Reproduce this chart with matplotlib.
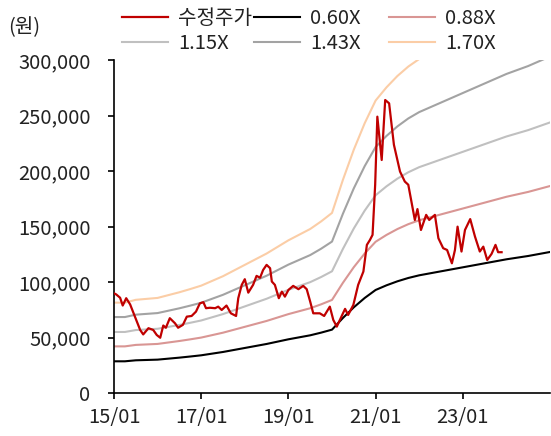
import matplotlib
matplotlib.use("Agg")
import matplotlib.pyplot as plt
from matplotlib.ticker import FuncFormatter

plt.rcParams['font.family'] = ['Noto Sans CJK KR', 'DejaVu Sans']

# ---- data ----
# adjusted share price (decimal year, KRW)
price_t = [2015.00, 2015.05, 2015.14, 2015.20, 2015.28, 2015.37, 2015.48, 2015.60, 2015.67,
           2015.79, 2015.90, 2015.98, 2016.06, 2016.13, 2016.19, 2016.28, 2016.40, 2016.47,
           2016.58, 2016.67, 2016.78, 2016.88, 2016.97, 2017.05, 2017.11, 2017.20, 2017.32,
           2017.39, 2017.47, 2017.58, 2017.68, 2017.80, 2017.85, 2017.93, 2018.00, 2018.08,
           2018.19, 2018.27, 2018.35, 2018.42, 2018.50, 2018.58, 2018.62, 2018.69, 2018.78,
           2018.85, 2018.92, 2019.00, 2019.11, 2019.23, 2019.34, 2019.42, 2019.50, 2019.57,
           2019.72, 2019.82, 2019.95, 2020.03, 2020.11, 2020.18, 2020.30, 2020.37, 2020.49,
           2020.60, 2020.72, 2020.80, 2020.87, 2020.93, 2020.99, 2021.04, 2021.14, 2021.22,
           2021.31, 2021.42, 2021.56, 2021.67, 2021.75, 2021.90, 2021.96, 2022.04, 2022.16,
           2022.23, 2022.36, 2022.44, 2022.55, 2022.64, 2022.75, 2022.82, 2022.88, 2022.97,
           2023.05, 2023.17, 2023.28, 2023.39, 2023.47, 2023.56, 2023.66, 2023.75, 2023.81,
           2023.89]
price = [90000, 89000, 86000, 79000, 85600, 80000, 69000, 57000, 53000,
         58600, 57000, 52500, 50000, 61000, 59000, 67600, 63000, 59000,
         61600, 69000, 69600, 73500, 81000, 82000, 76600, 77000, 76600,
         78000, 75000, 79000, 72000, 69600, 85600, 97600, 102700, 90600,
         97600, 105700, 104000, 111000, 115600, 112600, 100600, 97600, 85600,
         91500, 87000, 93000, 96700, 93700, 96700, 93700, 82500, 72000,
         72000, 69600, 78000, 66000, 60000, 66000, 76000, 70500, 79600,
         97600, 109600, 133600, 138000, 142600, 187700, 249000, 210000, 264000,
         261000, 223700, 199600, 190600, 187700, 156000, 165800, 147000, 160600,
         156000, 160600, 139600, 130600, 129000, 117000, 129000, 150000, 127600,
         147000, 156800, 141000, 127600, 132000, 120000, 125500, 133600, 127000,
         127000]

# book value per share, quarterly (decimal year, KRW)
bps_t = [2015.00, 2015.25, 2015.50, 2015.75, 2016.00, 2016.25, 2016.50, 2016.75,
         2017.00, 2017.25, 2017.50, 2017.75, 2018.00, 2018.25, 2018.50, 2018.75,
         2019.00, 2019.25, 2019.50, 2019.75, 2020.00, 2020.25, 2020.50, 2020.75,
         2021.00, 2021.25, 2021.50, 2021.75, 2022.00, 2022.25, 2022.50, 2022.75,
         2023.00, 2023.25, 2023.50, 2023.75, 2024.00, 2024.25, 2024.50, 2024.75,
         2025.00]
bps = [48000, 48000, 49500, 50000, 50500, 52000, 53500, 55200,
       57000, 59500, 62000, 65000, 68000, 71000, 74000, 77500,
       81000, 84000, 87000, 91000, 95500, 113000, 129000, 143000,
       155000, 162000, 168000, 173000, 177000, 180000, 183000, 186000,
       189000, 192000, 195000, 198000, 201000, 203500, 206000, 209000,
       212000]

multiples = [0.60, 0.88, 1.15, 1.43, 1.70]
band_labels = ['0.60X', '0.88X', '1.15X', '1.43X', '1.70X']
price_label = '수정주가'
x_ticks = [2015, 2017, 2019, 2021, 2023]
x_ticklabels = ['15/01', '17/01', '19/01', '21/01', '23/01']
y_ticks = [0, 50000, 100000, 150000, 200000, 250000, 300000]

# ---- style ----
band_colors = ['#000000', '#D99694', '#C0C0C0', '#A3A3A3', '#FBCDA6']
price_color = '#C00000'
fs = 14.5

fig = plt.figure(figsize=(5.51, 4.36), dpi=100)
ax = fig.add_axes([114/551, 1-393.3/436, 436/551, 333.3/436])

band_lines = []
for m, lab, col in zip(multiples, band_labels, band_colors):
    ln, = ax.plot(bps_t, [b*m for b in bps], color=col, lw=1.5, label=lab)
    band_lines.append(ln)
price_line, = ax.plot(price_t, price, color=price_color, lw=1.6, label=price_label, zorder=5)

ax.set_xlim(2015, 2025)
ax.set_ylim(0, 300000)
ax.set_xticks(x_ticks)
ax.set_xticklabels(x_ticklabels)
ax.set_yticks(y_ticks)
ax.yaxis.set_major_formatter(FuncFormatter(lambda v, p: f'{int(v):,}'))
for s in ['top', 'right']:
    ax.spines[s].set_visible(False)
for s in ['left', 'bottom']:
    ax.spines[s].set_linewidth(1.2)
    ax.spines[s].set_color('black')
ax.tick_params(axis='y', direction='out', length=4, width=1.2, pad=13, labelsize=fs, colors='black', labelcolor='#222222')
ax.tick_params(axis='x', direction='out', length=4, width=1.2, pad=6, labelsize=fs, colors='black', labelcolor='#222222')

# legend: three single-column legends
cols = [[price_line, band_lines[2]], [band_lines[0], band_lines[3]], [band_lines[1], band_lines[4]]]
xpos = [122, 254, 389]
for handles, xp in zip(cols, xpos):
    fig.legend(handles=handles, labels=[h.get_label() for h in handles],
               loc='upper left', bbox_to_anchor=(xp/551, 1-8/436), ncol=1,
               frameon=False, fontsize=fs, handlelength=2.3, handletextpad=0.5,
               borderpad=0, borderaxespad=0, labelspacing=0.2, labelcolor='#222222')

fig.text(8/551, 1-28/436, '(원)', fontsize=fs, va='center', ha='left', color='#222222')

fig.savefig('out.png', dpi=100)
